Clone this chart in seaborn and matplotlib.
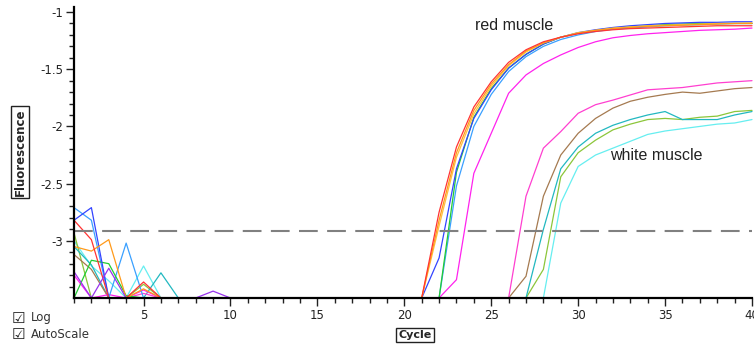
import matplotlib
matplotlib.use("Agg")
import matplotlib.pyplot as plt
import seaborn as sns
import pandas as pd

# amplification curves, log10 fluorescence per cycle (1..40)
cycles = list(range(1, 41))

red = [-2.82, -2.99, -3.5, -3.5, -3.36, -3.5, -3.5, -3.5, -3.5, -3.5,
       -3.5, -3.5, -3.5, -3.5, -3.5, -3.5, -3.5, -3.5, -3.5, -3.5,
       -3.5, -2.75, -2.18, -1.83, -1.61, -1.44, -1.33, -1.26, -1.22, -1.19,
       -1.17, -1.155, -1.145, -1.14, -1.135, -1.13, -1.125, -1.12, -1.12, -1.12]
orange = [-3.05, -3.09, -2.99, -3.5, -3.42, -3.5, -3.5, -3.5, -3.5, -3.5,
          -3.5, -3.5, -3.5, -3.5, -3.5, -3.5, -3.5, -3.5, -3.5, -3.5,
          -3.5, -2.82, -2.23, -1.86, -1.63, -1.46, -1.34, -1.27, -1.22, -1.185,
          -1.16, -1.145, -1.135, -1.125, -1.12, -1.115, -1.11, -1.105, -1.10, -1.10]
gold = [-3.5, -3.5, -3.5, -3.5, -3.5, -3.5, -3.5, -3.5, -3.5, -3.5,
        -3.5, -3.5, -3.5, -3.5, -3.5, -3.5, -3.5, -3.5, -3.5, -3.5,
        -3.5, -2.87, -2.27, -1.89, -1.65, -1.47, -1.35, -1.27, -1.22, -1.18,
        -1.16, -1.14, -1.13, -1.12, -1.115, -1.11, -1.105, -1.10, -1.10, -1.095]
blue = [-2.82, -2.71, -3.5, -3.5, -3.5, -3.5, -3.5, -3.5, -3.5, -3.5,
        -3.5, -3.5, -3.5, -3.5, -3.5, -3.5, -3.5, -3.5, -3.5, -3.5,
        -3.5, -3.15, -2.37, -1.93, -1.68, -1.49, -1.37, -1.28, -1.22, -1.18,
        -1.155, -1.135, -1.12, -1.11, -1.10, -1.095, -1.09, -1.09, -1.085, -1.085]
green = [-3.5, -3.17, -3.2, -3.48, -3.5, -3.5, -3.5, -3.5, -3.5, -3.5,
         -3.5, -3.5, -3.5, -3.5, -3.5, -3.5, -3.5, -3.5, -3.5, -3.5,
         -3.5, -3.5, -2.40, -1.92, -1.67, -1.49, -1.37, -1.28, -1.22, -1.185,
         -1.16, -1.14, -1.13, -1.12, -1.11, -1.105, -1.10, -1.10, -1.10, -1.10]
sky = [-2.71, -2.82, -3.5, -3.02, -3.5, -3.5, -3.5, -3.5, -3.5, -3.5,
       -3.5, -3.5, -3.5, -3.5, -3.5, -3.5, -3.5, -3.5, -3.5, -3.5,
       -3.5, -3.5, -2.52, -2.0, -1.72, -1.52, -1.39, -1.30, -1.24, -1.20,
       -1.17, -1.15, -1.14, -1.13, -1.12, -1.115, -1.11, -1.105, -1.10, -1.10]
magenta = [-3.30, -3.5, -3.47, -3.5, -3.43, -3.5, -3.5, -3.5, -3.5, -3.5,
           -3.5, -3.5, -3.5, -3.5, -3.5, -3.5, -3.5, -3.5, -3.5, -3.5,
           -3.5, -3.5, -3.34, -2.41, -2.06, -1.71, -1.55, -1.45, -1.375, -1.31,
           -1.26, -1.225, -1.205, -1.19, -1.18, -1.17, -1.16, -1.155, -1.15, -1.14]
pink = [-3.5, -3.5, -3.5, -3.5, -3.46, -3.5, -3.5, -3.5, -3.5, -3.5,
        -3.5, -3.5, -3.5, -3.5, -3.5, -3.5, -3.5, -3.5, -3.5, -3.5,
        -3.5, -3.5, -3.5, -3.5, -3.5, -3.5, -2.61, -2.19, -2.045, -1.885,
        -1.81, -1.77, -1.725, -1.68, -1.67, -1.66, -1.64, -1.62, -1.61, -1.60]
brown = [-3.12, -3.25, -3.5, -3.5, -3.5, -3.5, -3.5, -3.5, -3.5, -3.5,
         -3.5, -3.5, -3.5, -3.5, -3.5, -3.5, -3.5, -3.5, -3.5, -3.5,
         -3.5, -3.5, -3.5, -3.5, -3.5, -3.5, -3.31, -2.61, -2.25, -2.06,
         -1.93, -1.84, -1.78, -1.745, -1.72, -1.70, -1.71, -1.69, -1.67, -1.66]
teal = [-3.05, -3.21, -3.5, -3.5, -3.5, -3.28, -3.5, -3.5, -3.5, -3.5,
        -3.5, -3.5, -3.5, -3.5, -3.5, -3.5, -3.5, -3.5, -3.5, -3.5,
        -3.5, -3.5, -3.5, -3.5, -3.5, -3.5, -3.5, -2.90, -2.37, -2.18,
        -2.06, -1.99, -1.94, -1.90, -1.87, -1.94, -1.94, -1.94, -1.90, -1.87]
yellowgreen = [-2.93, -3.5, -3.5, -3.5, -3.38, -3.5, -3.5, -3.5, -3.5, -3.5,
               -3.5, -3.5, -3.5, -3.5, -3.5, -3.5, -3.5, -3.5, -3.5, -3.5,
               -3.5, -3.5, -3.5, -3.5, -3.5, -3.5, -3.5, -3.25, -2.44, -2.23,
               -2.12, -2.03, -1.98, -1.94, -1.93, -1.94, -1.92, -1.91, -1.87, -1.86]
lightcyan = [-3.0, -3.22, -3.35, -3.5, -3.22, -3.5, -3.5, -3.5, -3.5, -3.5,
             -3.5, -3.5, -3.5, -3.5, -3.5, -3.5, -3.5, -3.5, -3.5, -3.5,
             -3.5, -3.5, -3.5, -3.5, -3.5, -3.5, -3.5, -3.5, -2.67, -2.35,
             -2.25, -2.19, -2.13, -2.07, -2.04, -2.02, -2.00, -1.98, -1.97, -1.94]
purple = [-3.27, -3.5, -3.24, -3.5, -3.5, -3.5, -3.5, -3.5, -3.44, -3.5,
          -3.5, -3.5, -3.5, -3.5, -3.5, -3.5, -3.5, -3.5, -3.5, -3.5,
          -3.5, -3.5, -3.5, -3.5, -3.5, -3.5, -3.5, -3.5, -3.5, -3.5,
          -3.5, -3.5, -3.5, -3.5, -3.5, -3.5, -3.5, -3.5, -3.5, -3.5]

threshold = -2.913

y_ticks = [-3, -2.5, -2, -1.5, -1]
y_tick_labels = ["-3", "-2.5", "-2", "-1.5", "-1"]
x_ticks = [5, 10, 15, 20, 25, 30, 35, 40]
x_tick_labels = ["5", "10", "15", "20", "25", "30", "35", "40"]

samples = {
    "lightcyan": lightcyan, "yellowgreen": yellowgreen, "teal": teal,
    "brown": brown, "pink": pink, "magenta": magenta, "sky": sky,
    "green": green, "blue": blue, "gold": gold, "orange": orange,
    "red": red, "purple": purple,
}
palette = {
    "lightcyan": "#66eef0", "yellowgreen": "#8cc63a", "teal": "#22b8c0",
    "brown": "#a57a50", "pink": "#ff3fd0", "magenta": "#ff22ee",
    "sky": "#3aa0ff", "green": "#22cc33", "blue": "#3344ff",
    "gold": "#ffc040", "orange": "#ff9a1a", "red": "#ff3333",
    "purple": "#9933ee",
}

rows = []
for name, vals in samples.items():
    for c, v in zip(cycles, vals):
        rows.append({"cycle": c, "fluor": v, "sample": name})
df = pd.DataFrame(rows)

sns.set_style("ticks")
plt.rcParams["font.family"] = ["DejaVu Sans"]

fig = plt.figure(figsize=(7.54, 3.46), dpi=100)
ax = fig.add_axes([74 / 754, 1 - 298 / 346, 678 / 754, 291 / 346])

sns.lineplot(data=df, x="cycle", y="fluor", hue="sample", hue_order=list(samples),
             palette=palette, estimator=None, legend=False, linewidth=0.9,
             clip_on=False, ax=ax)

ax.axhline(threshold, color="#808080", lw=1.5, dashes=(9, 4.5))

ax.set_xlim(1, 40)
ax.set_ylim(-3.5, -0.956)
ax.set_xticks(x_ticks)
ax.set_xticklabels(x_tick_labels)
ax.set_xticks(cycles, minor=True)
ax.set_yticks(y_ticks)
ax.set_yticklabels(y_tick_labels)
ax.set_yticks([-3.4, -3.3, -3.2, -3.1, -2.9, -2.8, -2.7, -2.6, -2.4, -2.3, -2.2,
               -2.1, -1.9, -1.8, -1.7, -1.6, -1.4, -1.3, -1.2, -1.1], minor=True)
ax.tick_params(axis="both", which="major", length=6, width=1, labelsize=8.5,
               colors="#222222", pad=2)
ax.tick_params(axis="both", which="minor", length=3.5, width=1, color="#222222")
ax.set_xlabel("")
ax.set_ylabel("")
sns.despine(ax=ax)
for side in ["left", "bottom"]:
    ax.spines[side].set_linewidth(1.6)
    ax.spines[side].set_color("black")

ax.text(26.29, -1.122, "red muscle", ha="center", va="center",
        fontsize=11.5, family="Liberation Sans", color="#222222")
ax.text(34.52, -2.258, "white muscle", ha="center", va="center",
        fontsize=11.5, family="Liberation Sans", color="#222222")

box = dict(boxstyle="square,pad=0.2", fc="white", ec="#222222", lw=1)
fig.text(20 / 754, 1 - 152 / 346, "Fluorescence", rotation=90, ha="center",
         va="center", fontsize=8.5, fontweight="bold", bbox=box)
fig.text(415 / 754, 1 - 335 / 346, "Cycle", ha="center", va="center",
         fontsize=8, fontweight="bold", bbox=box)

for label, ypx in [("Log", 318), ("AutoScale", 334)]:
    fig.text(12 / 754, 1 - ypx / 346, "\u2611", ha="left", va="center",
             fontsize=11, color="#222222")
    fig.text(31 / 754, 1 - ypx / 346, label, ha="left", va="center",
             fontsize=8.5, color="#333333")

fig.savefig("out.png", dpi=100)
